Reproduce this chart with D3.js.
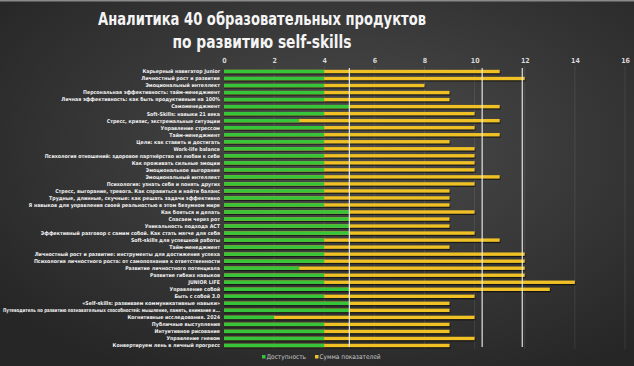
<!DOCTYPE html>
<html>
<head>
<meta charset="utf-8">
<script src="https://cdn.jsdelivr.net/npm/d3@7"></script>
<style>
  html, body { margin: 0; padding: 0; background: #2b2b2b; }
  svg { display: block; }
</style>
</head>
<body>
<div id="chart"></div>
<script>
// Data
const products = [
  'Карьерный навигатор Junior',
  'Личностный рост и развитие',
  'Эмоциональный интеллект',
  'Персональная эффективность: тайм-менеджмент',
  'Личная эффективность: как быть продуктивным на 100%',
  'Самоменеджмент',
  'Soft-Skills: навыки 21 века',
  'Стресс, кризис, экстремальные ситуации',
  'Управление стрессом',
  'Тайм-менеджмент',
  'Цели: как ставить и достигать',
  'Work-life balance',
  'Психология отношений: здоровое партнёрство из любви к себе',
  'Как проживать сильные эмоции',
  'Эмоциональное выгорание',
  'Эмоциональный интеллект',
  'Психология: узнать себя и понять других',
  'Стресс, выгорание, тревога. Как справиться и найти баланс',
  'Трудные, длинные, скучные: как решать задачи эффективно',
  'Я навыков для управления своей реальностью в этом безумном мире',
  'Как бояться и делать',
  'Спасаем через рот',
  'Уникальность подхода ACT',
  'Эффективный разговор с самим собой. Как стать мягче для себя',
  'Soft-skills для успешной работы',
  'Тайм-менеджмент',
  'Личностный рост и развитие: инструменты для достижения успеха',
  'Психология личностного роста: от самопознания к ответственности',
  'Развитие личностного потенциала',
  'Развитие гибких навыков',
  'JUNIOR LIFE',
  'Управление собой',
  'Быть с собой 3.0',
  '«Self-skills: развиваем коммуникативные навыки»',
  'Путеводитель по развитию познавательных способностей: мышление, память, внимание и...',
  'Когнитивные исследования. 2024',
  'Публичные выступления',
  'Интуитивное рисование',
  'Управление гневом',
  'Конвертируем лень в личный прогресс'
];
const access = [4,4,4,4,4,5,4,3,4,4, 4,4,4,4,4,4,4,4,4,4, 5,5,5,5,4,4,4,4,3,4, 4,5,4,5,5,2,4,4,4,4];
const totals = [11,12,8,9,9,11,10,11,10,11, 9,10,10,10,10,11,10,9,9,9, 10,9,9,10,11,9,12,12,12,12, 14,13,10,9,9,10,9,9,10,9];
const refLines = [5, 10.3, 11.9];
const xTicks = [0, 2, 4, 6, 8, 10, 12, 14, 16];
const seriesNames = ['Доступность', 'Сумма показателей'];
const titleLines = ['Аналитика 40 образовательных продуктов', 'по развитию self-skills'];

const W = 634, H = 366;
const green = '#35c43a', yellow = '#f0c125';
const condensed = '"Liberation Sans Narrow", "DejaVu Sans Condensed", sans-serif';

const svg = d3.select('#chart').append('svg')
  .attr('width', W).attr('height', H);

// background
const defs = svg.append('defs');
const bg = defs.append('radialGradient').attr('id', 'bg')
  .attr('cx', '55%').attr('cy', '40%').attr('r', '70%');
bg.append('stop').attr('offset', '0%').attr('stop-color', '#4c4c4c');
bg.append('stop').attr('offset', '100%').attr('stop-color', '#262626');
svg.append('rect').attr('width', W).attr('height', H).attr('fill', 'url(#bg)');
svg.append('rect').attr('width', W).attr('height', 1.5).attr('fill', '#8a8a8a');

const x = d3.scaleLinear().domain([0, 16]).range([224, 625]);
const y = d3.scaleBand().domain(d3.range(products.length)).range([68, 349]);
const barH = 3.4;

// gridlines
svg.append('g').selectAll('line').data(xTicks.slice(1)).join('line')
  .attr('x1', d => x(d)).attr('x2', d => x(d))
  .attr('y1', 66).attr('y2', 349)
  .attr('stroke', 'rgba(255,255,255,0.09)').attr('stroke-width', 1);

// axis on top
const axis = svg.append('g').attr('transform', 'translate(0,66)')
  .call(d3.axisTop(x).tickValues(xTicks).tickSize(0).tickPadding(3));
axis.select('.domain').remove();
axis.selectAll('text')
  .attr('fill', '#d8d8d8')
  .style('font-family', condensed)
  .style('font-size', '7px')
  .style('font-weight', 'bold');

// bars
const rows = svg.append('g').selectAll('g').data(products).join('g')
  .attr('transform', (d, i) => `translate(0,${y(i) + y.bandwidth() / 2 - barH / 2})`);

rows.append('rect') // shadow
  .attr('x', x(0)).attr('y', 1.3)
  .attr('width', (d, i) => x(totals[i]) - x(0) + 0.8).attr('height', barH)
  .attr('fill', 'rgba(0,0,0,0.55)');
rows.append('rect')
  .attr('x', x(0)).attr('y', 0)
  .attr('width', (d, i) => x(totals[i]) - x(0)).attr('height', barH)
  .attr('fill', yellow);
rows.append('rect')
  .attr('x', x(0)).attr('y', 0)
  .attr('width', (d, i) => x(access[i]) - x(0)).attr('height', barH)
  .attr('fill', green);

// labels
const labelX = 220, maxLabel = 217;
rows.append('text')
  .attr('x', labelX).attr('y', barH / 2)
  .attr('dy', '0.35em')
  .attr('text-anchor', 'end')
  .attr('fill', '#f0f0f0')
  .style('font-family', condensed)
  .style('font-size', '5.25px')
  .style('font-weight', 'bold')
  .text(d => d)
  .each(function() {
    // squeeze labels that would run off the left edge
    if (this.getComputedTextLength() > maxLabel) {
      d3.select(this).attr('textLength', maxLabel).attr('lengthAdjust', 'spacingAndGlyphs');
    }
  });

// reference lines
svg.append('g').selectAll('line').data(refLines).join('line')
  .attr('x1', d => x(d)).attr('x2', d => x(d))
  .attr('y1', 68).attr('y2', 347)
  .attr('stroke', '#f2f2f2').attr('stroke-width', 1.1);

// title
const titleWidths = [328, 179];
svg.append('g').selectAll('text').data(titleLines).join('text')
  .attr('x', 262).attr('y', (d, i) => 25 + i * 23)
  .attr('text-anchor', 'middle')
  .attr('textLength', (d, i) => titleWidths[i])
  .attr('lengthAdjust', 'spacingAndGlyphs')
  .attr('fill', '#f4f4f4')
  .style('font-family', condensed)
  .style('font-size', '17px')
  .style('font-weight', 'bold')
  .text(d => d);

// legend
const legendX = [262, 315];
const legend = svg.append('g').selectAll('g').data(seriesNames).join('g')
  .attr('transform', (d, i) => `translate(${legendX[i]},355)`);
legend.append('rect').attr('width', 3.5).attr('height', 3.5)
  .attr('fill', (d, i) => i === 0 ? green : yellow);
legend.append('text')
  .attr('x', 4.5).attr('y', 1.8).attr('dy', '0.35em')
  .attr('fill', '#c8c8c8')
  .style('font-family', condensed)
  .style('font-size', '6.5px')
  .text(d => d);
</script>
</body>
</html>
